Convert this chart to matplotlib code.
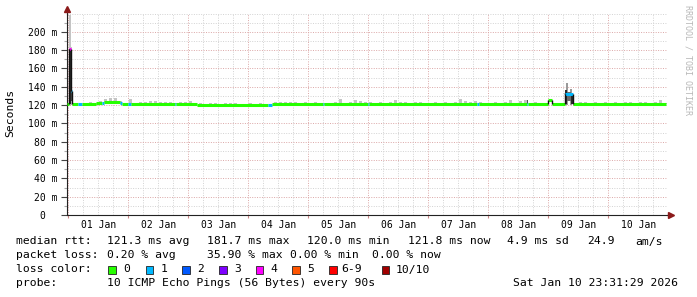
import matplotlib
matplotlib.use('Agg')
import matplotlib.pyplot as plt
import numpy as np
from matplotlib.patches import Rectangle
from matplotlib.lines import Line2D

# median rtt as run-length segments (hours since 01 Jan 00:00, ms, loss class)
seg_start = [-0.48, 0.3, 1.1, 1.6, 4.0, 5.6, 11.2, 13.6, 14.4, 20.8, 21.6, 24.0, 25.2,
             42.8, 43.2, 51.6, 80.0, 81.6, 102.0, 102.4, 120.0, 120.4, 163.6, 164.4,
             183.6, 184.0, 192.0, 193.6, 198.8, 202.0]
seg_med = [121.0, 181.7, 135.0, 120.8, 120.8, 120.8, 121.8, 122.0, 123.0, 122.0, 121.3, 121.3, 121.3,
           121.3, 121.3, 119.8, 119.8, 121.0, 121.0, 121.0, 121.0, 121.2, 121.2, 121.2,
           121.2, 121.2, 126.0, 121.2, 132.0, 121.2]
seg_loss = [0, 4, 1, 0, 1, 0, 0, 1, 0, 1, 0, 1, 0,
            1, 0, 0, 1, 0, 1, 0, 1, 0, 1, 0,
            1, 0, 0, 0, 1, 0]
line_end = 239.2

# smoke spread above median, 2 hour bins (ms)
smoke_extra = [2, 2, 1.5, 2, 3, 2, 3, 4, 5.5, 5, 3, 2, 6, 2, 2.5, 3, 3.5, 4, 3, 2.5,
               3, 2, 2.5, 3, 3.5, 2, 2.5, 2, 3, 2.5, 2, 2.5, 3.5, 3, 2, 2, 2.5, 2, 3, 2,
               2, 3, 3, 3, 2.5, 3, 2, 3, 2, 2.5, 2, 2, 2, 2.5, 6, 2, 3, 5, 4, 2.5,
               3, 2, 2.5, 2, 2.5, 5, 3, 3, 2, 2.5, 3, 2, 2, 3, 2, 2.5, 2, 3, 6, 4,
               3, 4, 2.5, 2, 2, 2.5, 2, 2.5, 5, 2, 3.5, 4.5, 2, 2.5, 2, 2, 1.5, 1.5, 1.5, 2,
               2, 1.5, 2.5, 2.5, 2, 2.5, 2, 2.5, 2, 2.5, 2, 2.5, 3, 2, 3, 3, 2, 3, 5, 2]

# outlier smoke (start of period and 09 Jan)
light_start = [0.3, 1.1, 199.0, 200.6]
light_end = [1.1, 1.6, 200.0, 201.6]
light_top = [218.0, 170.0, 144.0, 138.0]
light_col = ['#c4c4c4', '#c4c4c4', '#9a9a9a', '#9a9a9a']
dark_start = [0.3, 1.1, 183.6, 198.8, 199.6, 201.3]
dark_end = [1.1, 1.6, 184.0, 199.4, 201.0, 202.0]
dark_low = [121.5, 124.0, 121.0, 121.0, 124.0, 121.0]
dark_high = [181.7, 167.0, 126.0, 136.0, 134.0, 130.0]
dark_col = ['#2a2a2a', '#4a4a4a', '#555555', '#2a2a2a', '#6a6a6a', '#2a2a2a']

day_labels = ['01 Jan', '02 Jan', '03 Jan', '04 Jan', '05 Jan',
              '06 Jan', '07 Jan', '08 Jan', '09 Jan', '10 Jan']
loss_colors = ['#26ff00', '#00b8ff', '#0059ff', '#7e00ff', '#ff00ff', '#ff5500', '#ff0000', '#a10000']
loss_labels = ['0', '1', '2', '3', '4', '5', '6-9', '10/10']

W, H = 697, 297
def fx(x):
    return x / W
def fy(y):
    return 1 - y / H

MONO = 'DejaVu Sans Mono'
fig = plt.figure(figsize=(W / 100, H / 100), dpi=100)
ax = fig.add_axes([fx(67), fy(215), 600 / W, (215 - 13.5) / H])
ax.set_xlim(-0.48, 239.52)
ax.set_ylim(0, 220)

# grid
for h in np.arange(0, 240, 6):
    major = h % 24 == 0
    ax.axvline(h, color='#dba6a6' if major else '#d2d2d2', lw=0.7,
               dashes=(1, 1.5), zorder=1)
for v in range(10, 221, 10):
    major = v % 20 == 0 and v < 220
    ax.axhline(v, color='#dba6a6' if major else '#d2d2d2', lw=0.7,
               dashes=(1, 1.5), zorder=1)

# smoke
bin_c = np.arange(len(smoke_extra)) * 2 + 1.0
idx = np.searchsorted(seg_start, bin_c, side='right') - 1
base = np.array(seg_med)[idx]
ax.bar(bin_c, smoke_extra, bottom=base - 0.5, width=1.2, color='#c4c4c4', lw=0, zorder=2)
for s, e, t, c in zip(light_start, light_end, light_top, light_col):
    ax.fill_between([s, e], 120, t, color=c, lw=0, zorder=2)
for s, e, lo, hi, c in zip(dark_start, dark_end, dark_low, dark_high, dark_col):
    ax.fill_between([s, e], lo, hi, color=c, lw=0, zorder=3)

# median line coloured by loss
ends = seg_start[1:] + [line_end]
for i, (s, e, m, l) in enumerate(zip(seg_start, ends, seg_med, seg_loss)):
    ax.hlines(m, s, e, colors=loss_colors[l], lw=2.2, zorder=4)
    if i > 0 and abs(m - seg_med[i - 1]) > 1.5:
        ax.vlines(s, min(m, seg_med[i - 1]), max(m, seg_med[i - 1]),
                  colors='#111111', lw=1.0, zorder=5)

# axes styling
for sp in ['top', 'right']:
    ax.spines[sp].set_visible(False)
ax.spines['left'].set_color('#222222')
ax.spines['bottom'].set_color('#222222')
ax.spines['left'].set_linewidth(0.8)
ax.spines['bottom'].set_linewidth(0.8)

ax.set_yticks(range(0, 201, 20))
ax.set_yticklabels(['0  '] + ['%d m' % v for v in range(20, 201, 20)])
ax.set_yticks(range(10, 220, 20), minor=True)
ax.tick_params(axis='y', which='major', length=4, width=0.8, color='#444444',
               pad=3, labelsize=7, labelfontfamily=MONO)
ax.tick_params(axis='y', which='minor', length=2, width=0.8, color='#aaaaaa')
ax.set_xticks([12 + 24 * k for k in range(10)])
ax.set_xticklabels(day_labels)
ax.set_xticks(np.arange(0, 240, 24), minor=True)
ax.tick_params(axis='x', which='major', length=0, pad=3.5, labelsize=7, labelfontfamily=MONO)
ax.tick_params(axis='x', which='minor', length=2, width=0.8, color='#cc8888')

# axis extensions and arrows
fig.add_artist(Line2D([fx(67), fx(67)], [fy(13.5), fy(9)], color='#222222', lw=0.8,
                      transform=fig.transFigure))
fig.add_artist(Line2D([fx(667), fx(671)], [fy(215), fy(215)], color='#222222', lw=0.8,
                      transform=fig.transFigure))
fig.add_artist(Line2D([fx(67)], [fy(9)], marker='^', markersize=4.5, color='#8b1a1a',
                      lw=0, transform=fig.transFigure))
fig.add_artist(Line2D([fx(671)], [fy(215)], marker='>', markersize=4.5, color='#8b1a1a',
                      lw=0, transform=fig.transFigure))

fig.text(fx(10), fy(113), 'Seconds', rotation=90, ha='center', va='center',
         family=MONO, fontsize=8.2)
fig.text(fx(688), fy(60), 'RRDTOOL / TOBI OETIKER', rotation=-90, ha='center', va='center',
         family=MONO, fontsize=6, color='#b8b8b8')

# legend text
def put(x, y, s):
    fig.text(fx(x), fy(y), s, ha='left', va='center', family=MONO, fontsize=8.2)

put(16, 241.5, 'median rtt:')
for x, s in [(107.3, '121.3 ms avg'), (207.3, '181.7 ms max'), (307.3, '120.0 ms min'),
             (407.7, '121.8 ms now'), (506.7, '4.9 ms sd'), (586.7, '24.9'), (635, 'am/s')]:
    put(x, 241.5, s)
put(16, 255.5, 'packet loss:')
for x, s in [(107.3, '0.20 % avg'), (207.3, '35.90 % max'), (290.0, '0.00 % min'),
             (372.5, '0.00 % now')]:
    put(x, 255.5, s)
put(16, 269.5, 'loss color:')
sq_x = [108.3, 145.7, 182.3, 219, 255.7, 292.3, 329, 381.7]
lab_x = [123.3, 160.7, 196.7, 234, 270.7, 307.3, 341.7, 396]
for c, lab, sx, lx in zip(loss_colors, loss_labels, sq_x, lab_x):
    fig.add_artist(Rectangle((fx(sx), fy(273.5)), 7.5 / W, 7.5 / H, facecolor=c,
                             edgecolor='#222222', lw=0.6, transform=fig.transFigure))
    put(lx, 269.5, lab)
put(16, 283, 'probe:')
put(107.3, 283, '10 ICMP Echo Pings (56 Bytes) every 90s')
put(513.3, 283, 'Sat Jan 10 23:31:29 2026')

fig.savefig('out.png', dpi=100, facecolor='white')
